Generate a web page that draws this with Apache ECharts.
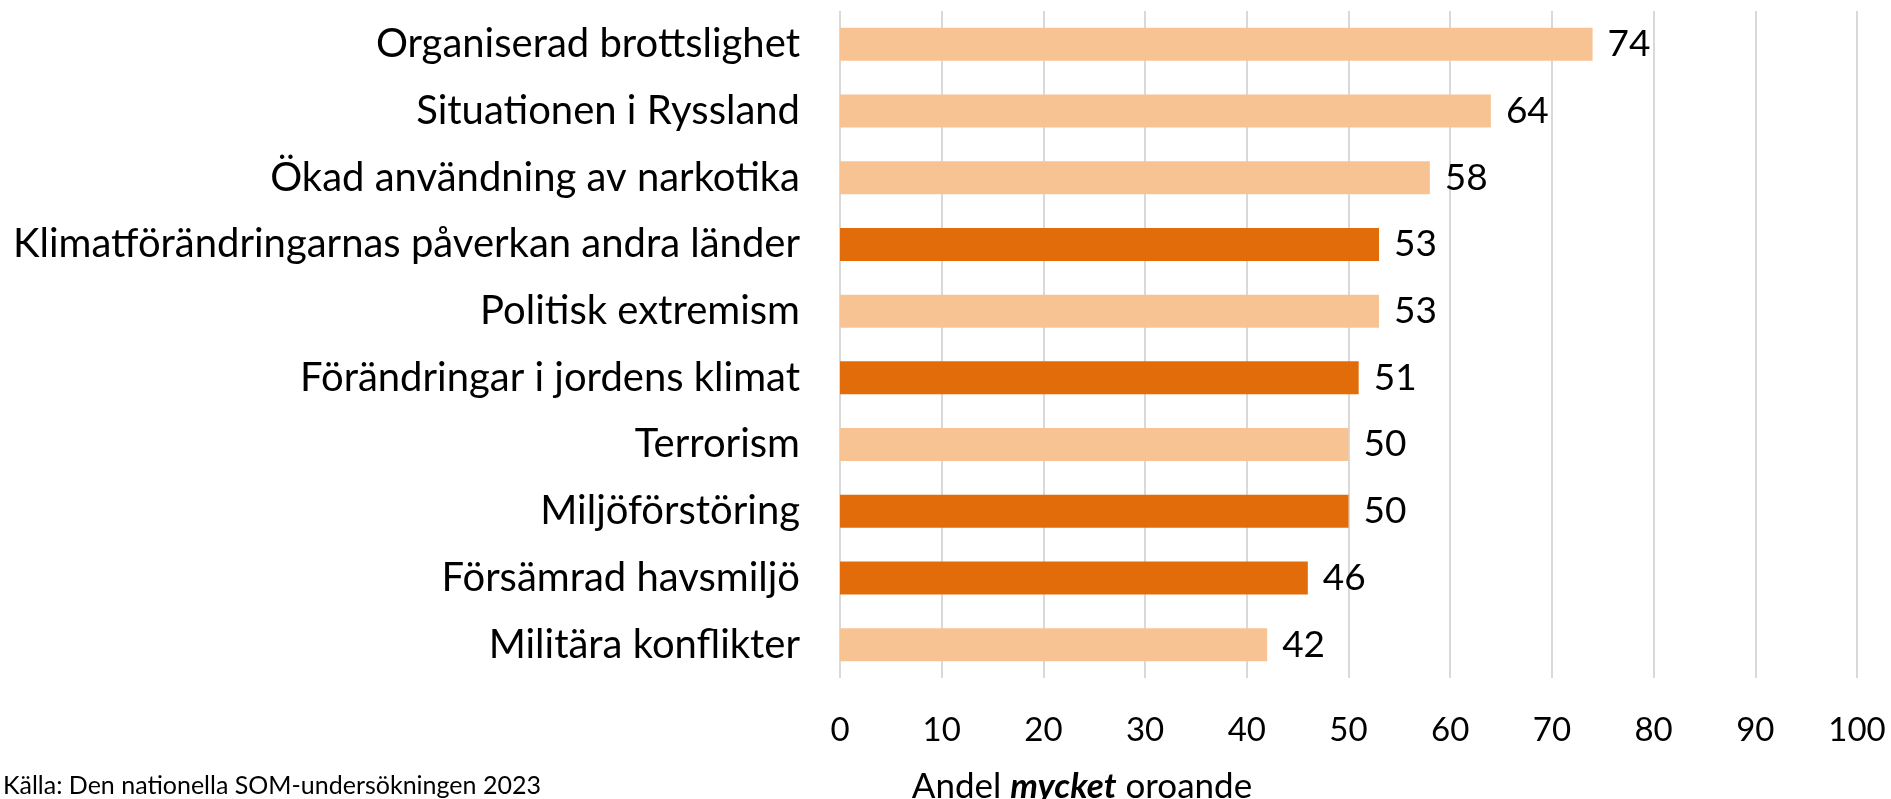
<!DOCTYPE html>
<html>
<head>
<meta charset="utf-8">
<script src="https://cdn.jsdelivr.net/npm/echarts@6/dist/echarts.min.js"></script>
<style>
  html, body { margin: 0; padding: 0; background: #fff; }
  #main { width: 1891px; height: 799px; }
</style>
</head>
<body>
<div id="main"></div>
<script>
// kategorier, uppifrån och ned
var kategorier = [
    'Organiserad brottslighet',
    'Situationen i Ryssland',
    'Ökad användning av narkotika',
    'Klimatförändringarnas påverkan andra länder',
    'Politisk extremism',
    'Förändringar i jordens klimat',
    'Terrorism',
    'Miljöförstöring',
    'Försämrad havsmiljö',
    'Militära konflikter'
];
// andel mycket oroande (%)
var andel = [74, 64, 58, 53, 53, 51, 50, 50, 46, 42];
// 1 = klimat/miljö-fråga (mörk stapel)
var klimatMiljo = [0, 0, 0, 1, 0, 1, 0, 1, 1, 0];
var xTicks = [0, 10, 20, 30, 40, 50, 60, 70, 80, 90, 100];

var ljus = '#F8C393',
    mork = '#E36C0A';

var chart = echarts.init(document.getElementById('main'));

var data = andel.map(function (v, i) {
    return {
        value: v,
        itemStyle: { color: klimatMiljo[i] ? mork : ljus }
    };
});

var option = {
    backgroundColor: '#fff',
    animation: false,
    textStyle: { fontFamily: 'Lato' },
    grid: {
        left: 840,
        right: 34,
        top: 11,
        bottom: 121,
        containLabel: false
    },
    xAxis: {
        type: 'value',
        min: xTicks[0],
        max: xTicks[xTicks.length - 1],
        interval: 10,
        axisLine: { show: false },
        axisTick: { show: false },
        axisLabel: {
            color: '#000',
            fontSize: 33,
            margin: 36,
            fontFamily: 'Lato'
        },
        splitLine: {
            show: true,
            lineStyle: { color: '#D9D9D9', width: 2 }
        }
    },
    yAxis: {
        type: 'category',
        inverse: true,
        data: kategorier,
        axisLine: { show: false },
        axisTick: { show: false },
        axisLabel: {
            color: '#000',
            fontSize: 40,
            margin: 40,
            fontFamily: 'Lato'
        }
    },
    series: [{
        type: 'bar',
        data: data,
        barWidth: 33,
        label: {
            show: true,
            position: 'right',
            distance: 15,
            color: '#000',
            fontSize: 37,
            fontFamily: 'Lato'
        }
    }],
    graphic: [
        {
            type: 'text',
            left: 3,
            top: 773,
            style: {
                text: 'Källa: Den nationella SOM-undersökningen 2023',
                fill: '#000',
                font: '25px Lato'
            }
        },
        {
            type: 'text',
            x: 1082,
            y: 787,
            style: {
                text: '{a|Andel }{b|mycket}{a| oroande}',
                align: 'center',
                verticalAlign: 'middle',
                rich: {
                    a: { fontSize: 35, fontFamily: 'Lato', color: '#000' },
                    b: { fontSize: 35, fontFamily: 'Lato', fontWeight: 'bold', fontStyle: 'italic', color: '#000' }
                }
            }
        }
    ]
};

chart.setOption(option);
</script>
</body>
</html>
